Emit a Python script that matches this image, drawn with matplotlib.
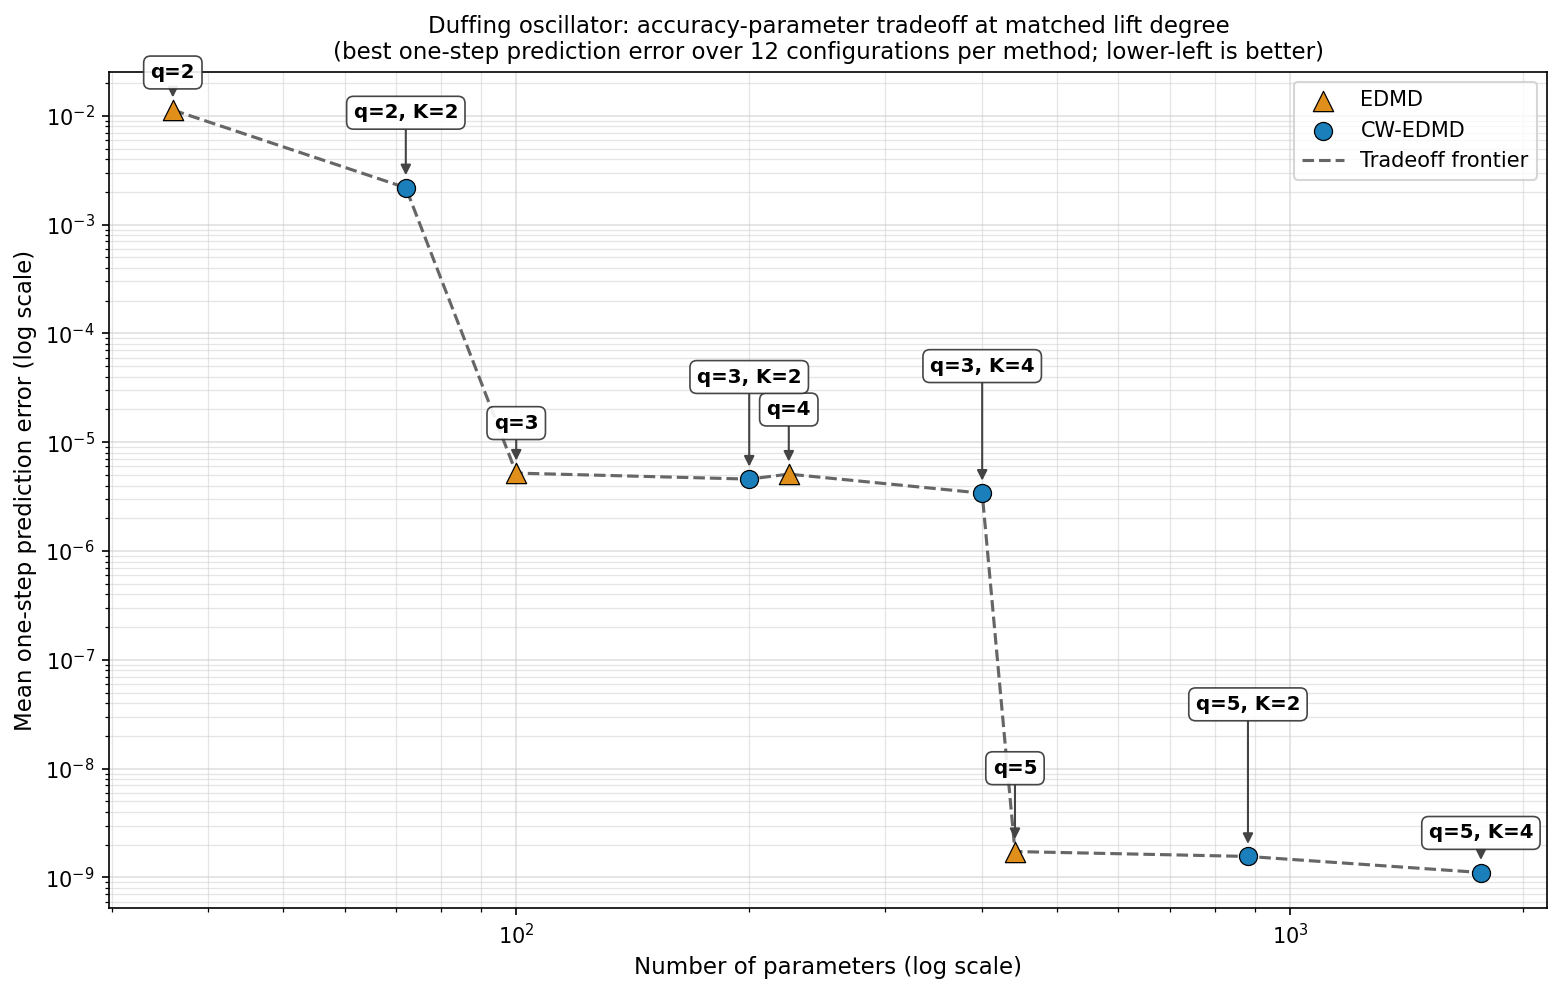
import matplotlib
matplotlib.use("Agg")
import matplotlib.pyplot as plt
import numpy as np

# EDMD: lift degree q, parameter count, best one-step error
edmd_labels = ["q=2", "q=3", "q=4", "q=5"]
edmd_params = [36, 100, 225, 441]
edmd_err = [1.13e-2, 5.2e-6, 5.09e-6, 1.73e-9]

# CW-EDMD: degree q with K cells
cw_labels = ["q=2, K=2", "q=3, K=2", "q=3, K=4", "q=5, K=2", "q=5, K=4"]
cw_params = [72, 200, 400, 882, 1764]
cw_err = [2.18e-3, 4.58e-6, 3.4e-6, 1.56e-9, 1.11e-9]

edmd_color = "#E0901A"
cw_color = "#1A7FBB"

fig, ax = plt.subplots(figsize=(10.41, 6.64), dpi=150)

ax.scatter(edmd_params, edmd_err, marker="^", s=95, c=edmd_color,
           edgecolors="black", linewidths=0.6, zorder=4, label="EDMD")
ax.scatter(cw_params, cw_err, marker="o", s=75, c=cw_color,
           edgecolors="black", linewidths=0.6, zorder=4, label="CW-EDMD")

# frontier: all configs sorted by parameter count
all_p = np.array(edmd_params + cw_params)
all_e = np.array(edmd_err + cw_err)
order = np.argsort(all_p)
ax.plot(all_p[order], all_e[order], ls="--", color="#666666", lw=1.5,
        zorder=3, label="Tradeoff frontier")

# annotation offsets (box centre above point, in points)
edmd_off = [18, 24, 31, 40]
cw_off = [36, 49, 61, 73, 19]

box = dict(boxstyle="round,pad=0.35", fc="white", ec="#333333", alpha=0.9, lw=0.8)
arrow = dict(arrowstyle="-|>", color="#444444", lw=1.0, shrinkA=0, shrinkB=6,
             mutation_scale=10)
for lab, p, e, off in zip(edmd_labels, edmd_params, edmd_err, edmd_off):
    ax.annotate(lab, (p, e), xytext=(0, off), textcoords="offset points",
                ha="center", va="center", fontsize=9.5, fontweight="bold",
                bbox=box, arrowprops=arrow, zorder=5)
for lab, p, e, off in zip(cw_labels, cw_params, cw_err, cw_off):
    ax.annotate(lab, (p, e), xytext=(0, off), textcoords="offset points",
                ha="center", va="center", fontsize=9.5, fontweight="bold",
                bbox=box, arrowprops=arrow, zorder=5)

ax.set_xscale("log")
ax.set_yscale("log")
ax.set_xlim(29.8, 2150)
ax.set_ylim(5.2e-10, 2.54e-2)
ax.grid(True, which="major", color="#cccccc", alpha=0.6, lw=0.8)
ax.grid(True, which="minor", color="#cccccc", alpha=0.5, lw=0.6)

ax.set_xlabel("Number of parameters (log scale)", fontsize=11)
ax.set_ylabel("Mean one-step prediction error (log scale)", fontsize=11)
ax.set_title("Duffing oscillator: accuracy-parameter tradeoff at matched lift degree\n"
             "(best one-step prediction error over 12 configurations per method; lower-left is better)",
             fontsize=11)
ax.legend(loc="upper right", fontsize=10)

fig.subplots_adjust(left=0.07, right=0.991, top=0.928, bottom=0.088)
fig.savefig("out.png", dpi=150)
